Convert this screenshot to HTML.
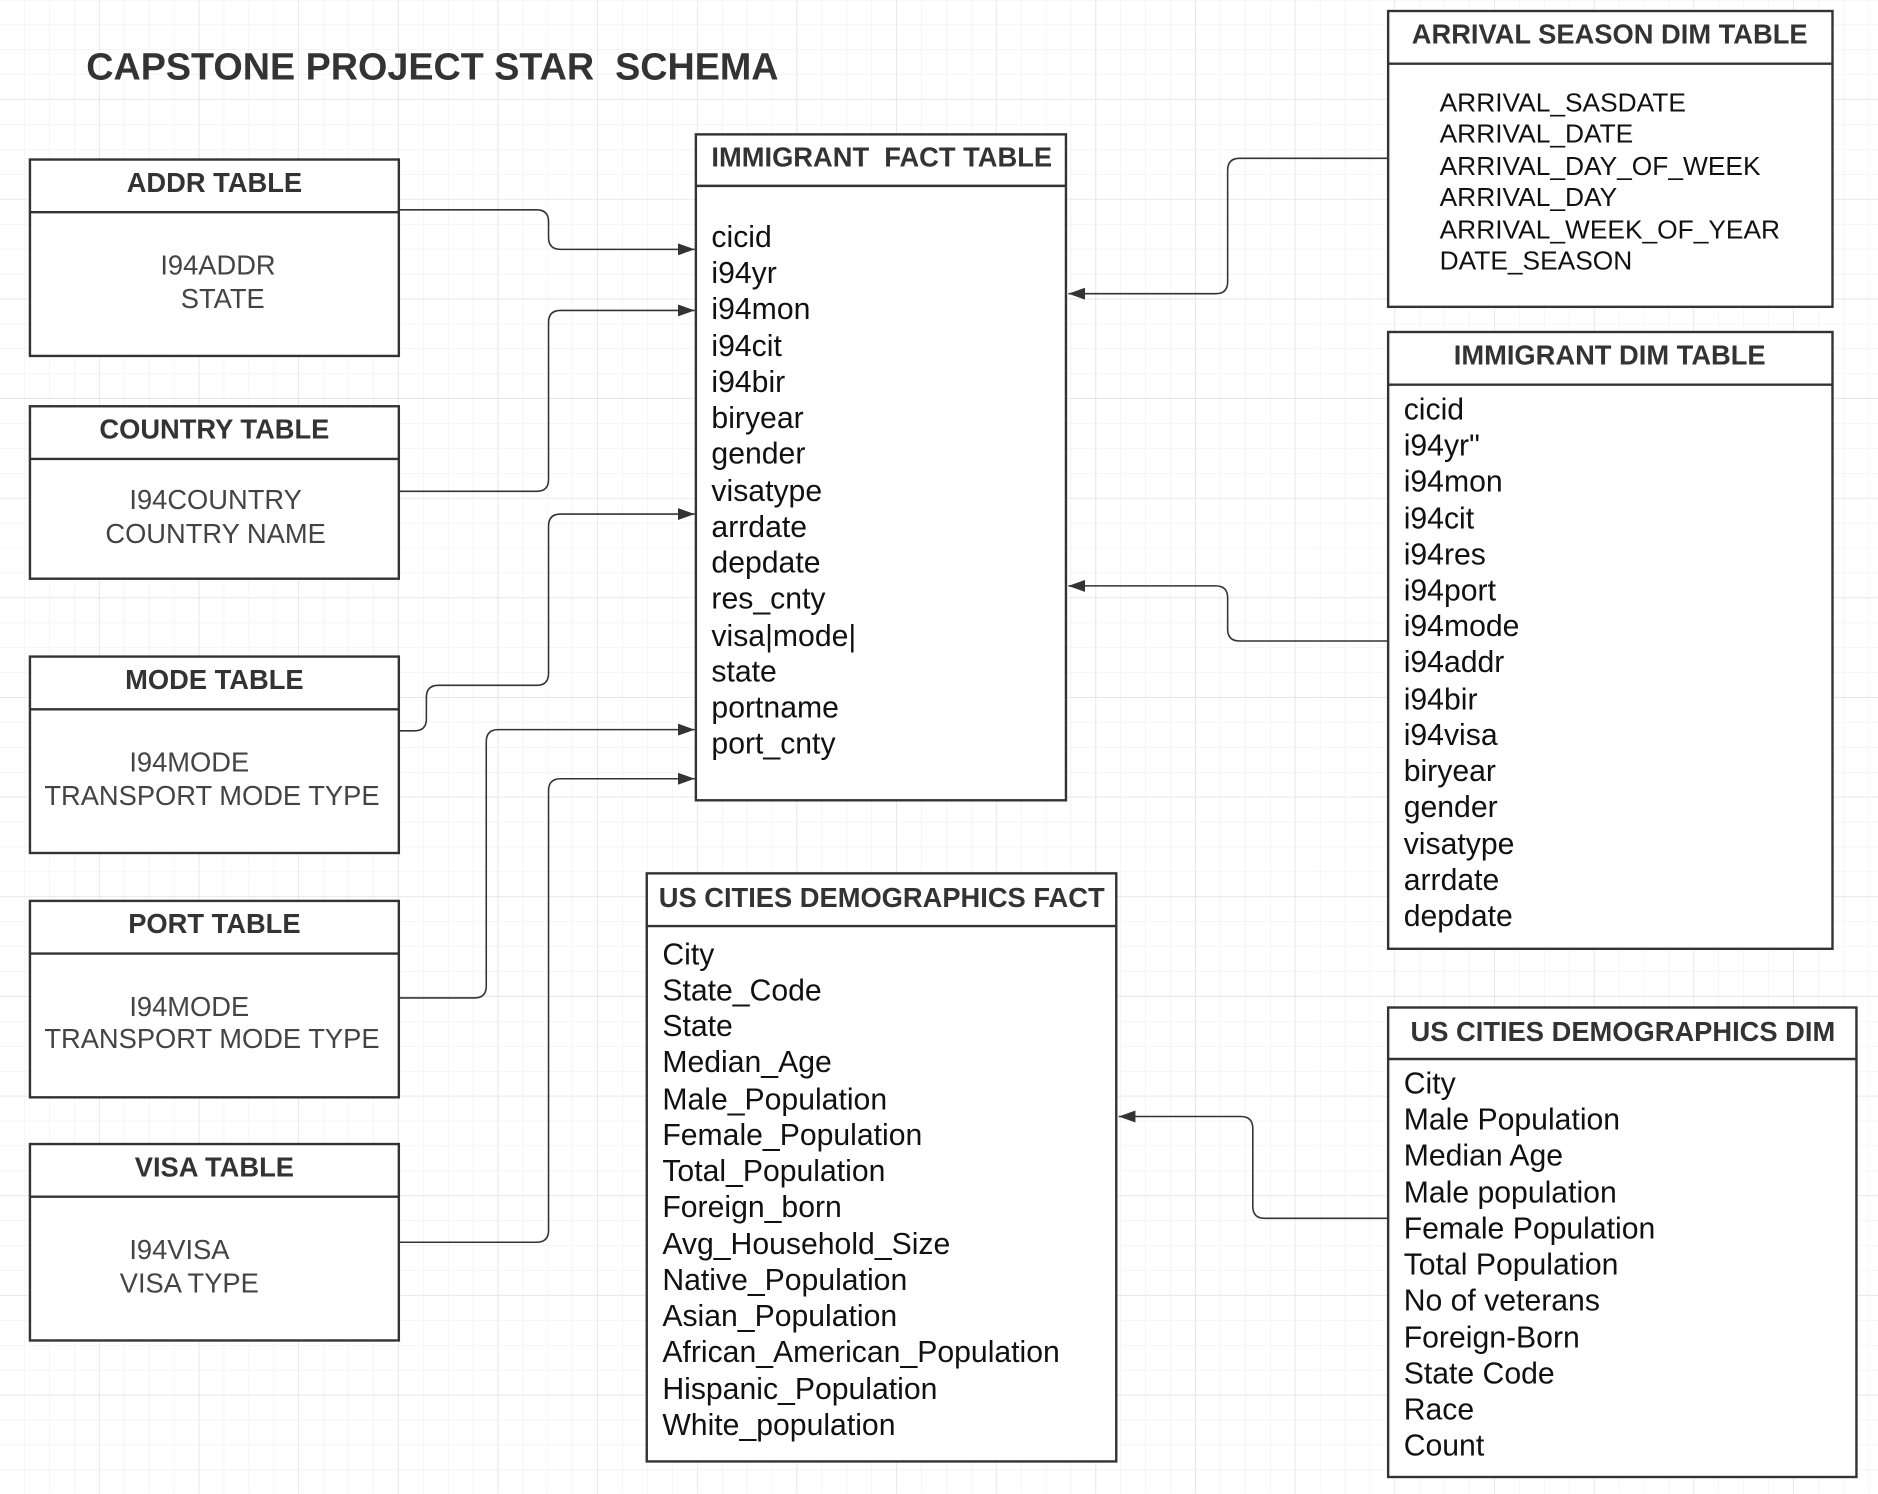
<!DOCTYPE html>
<html><head><meta charset="utf-8"><style>
html,body{margin:0;padding:0;background:#fff}
svg{display:block}
text{font-family:"Liberation Sans",Arial,sans-serif}
.t{font-weight:bold;font-size:22.8px;fill:#333}
.b{font-size:22.8px;fill:#444}
.f{font-size:25.2px;fill:#111}
.a{font-size:22px;fill:#111}
.box{fill:#fff;stroke:#333;stroke-width:2}
.c{fill:none;stroke:#333;stroke-width:1.3}
</style></head><body>
<svg width="1878" height="1494" viewBox="0 0 1568 1247" xmlns="http://www.w3.org/2000/svg">
<defs>
<pattern id="g" width="20.8" height="20.8" patternUnits="userSpaceOnUse"><path d="M20.8 0V20.8M0 20.8H20.8" stroke="#ececec" stroke-width="0.8" fill="none"/></pattern>
<pattern id="G" width="83.2" height="83.2" patternUnits="userSpaceOnUse"><path d="M83.2 0V83.2M0 83.2H83.2" stroke="#dedede" stroke-width="1" fill="none"/></pattern>
<marker id="ar" markerWidth="14" markerHeight="10" refX="14" refY="5" orient="auto" markerUnits="userSpaceOnUse"><path d="M0 0L14 5L0 10z" fill="#333"/></marker>
</defs>
<rect width="1568" height="1247" fill="url(#g)"/>
<rect width="1568" height="1247" fill="url(#G)"/>
<text x="72" y="66" xml:space="preserve" style="font-weight:bold;font-size:31.5px;fill:#333">CAPSTONE PROJECT STAR  SCHEMA</text>

<path class="c" marker-end="url(#ar)" d="M333 175H448q10 0 10 10V198q0 10 10 10H580"/>
<path class="c" marker-end="url(#ar)" d="M333 410H448q10 0 10-10V269q0-10 10-10H580"/>
<path class="c" marker-end="url(#ar)" d="M333 610H346q10 0 10-10V582q0-10 10-10H448q10 0 10-10V439q0-10 10-10H580"/>
<path class="c" marker-end="url(#ar)" d="M333 833H396q10 0 10-10V619q0-10 10-10H580"/>
<path class="c" marker-end="url(#ar)" d="M333 1037H448q10 0 10-10V660q0-10 10-10H580"/>
<path class="c" marker-end="url(#ar)" d="M1159 132H1035q-10 0-10 10V235q0 10-10 10H892"/>
<path class="c" marker-end="url(#ar)" d="M1159 535H1035q-10 0-10-10V499q0-10-10-10H892"/>
<path class="c" marker-end="url(#ar)" d="M1159 1017H1056q-10 0-10-10V942q0-10-10-10H934"/>

<rect class="box" x="25" y="133" width="308" height="164"/><line class="box" x1="25" y1="177" x2="333" y2="177"/>
<text class="t" x="179" y="160" text-anchor="middle">ADDR TABLE</text>
<text class="b" x="182" y="229" text-anchor="middle">I94ADDR</text>
<text class="b" x="186" y="257" text-anchor="middle">STATE</text>

<rect class="box" x="25" y="339" width="308" height="144"/><line class="box" x1="25" y1="383" x2="333" y2="383"/>
<text class="t" x="179" y="366" text-anchor="middle">COUNTRY TABLE</text>
<text class="b" x="180" y="425" text-anchor="middle">I94COUNTRY</text>
<text class="b" x="180" y="453" text-anchor="middle">COUNTRY NAME</text>

<rect class="box" x="25" y="548" width="308" height="164"/><line class="box" x1="25" y1="592" x2="333" y2="592"/>
<text class="t" x="179" y="575" text-anchor="middle">MODE TABLE</text>
<text class="b" x="108" y="644">I94MODE</text>
<text class="b" x="37" y="672">TRANSPORT MODE TYPE</text>

<rect class="box" x="25" y="752" width="308" height="164"/><line class="box" x1="25" y1="796" x2="333" y2="796"/>
<text class="t" x="179" y="779" text-anchor="middle">PORT TABLE</text>
<text class="b" x="108" y="848">I94MODE</text>
<text class="b" x="37" y="875">TRANSPORT MODE TYPE</text>

<rect class="box" x="25" y="955" width="308" height="164"/><line class="box" x1="25" y1="999" x2="333" y2="999"/>
<text class="t" x="179" y="982" text-anchor="middle">VISA TABLE</text>
<text class="b" x="108" y="1051">I94VISA</text>
<text class="b" x="100" y="1079">VISA TYPE</text>

<rect class="box" x="581" y="112" width="309" height="556"/><line class="box" x1="581" y1="155" x2="890" y2="155"/>
<text class="t" x="594" y="139" xml:space="preserve">IMMIGRANT  FACT TABLE</text>
<g class="f">
<text x="594" y="206">cicid</text><text x="594" y="236">i94yr</text><text x="594" y="266">i94mon</text>
<text x="594" y="297">i94cit</text><text x="594" y="327">i94bir</text><text x="594" y="357">biryear</text>
<text x="594" y="387">gender</text><text x="594" y="418">visatype</text><text x="594" y="448">arrdate</text>
<text x="594" y="478">depdate</text><text x="594" y="508">res_cnty</text><text x="594" y="539">visa|mode|</text>
<text x="594" y="569">state</text><text x="594" y="599">portname</text><text x="594" y="629">port_cnty</text>
</g>

<rect class="box" x="1159" y="9" width="371" height="247"/><line class="box" x1="1159" y1="53" x2="1530" y2="53"/>
<text class="t" x="1344" y="36" text-anchor="middle">ARRIVAL SEASON DIM TABLE</text>
<g class="a">
<text x="1202" y="93">ARRIVAL_SASDATE</text><text x="1202" y="119">ARRIVAL_DATE</text>
<text x="1202" y="146">ARRIVAL_DAY_OF_WEEK</text><text x="1202" y="172">ARRIVAL_DAY</text>
<text x="1202" y="199">ARRIVAL_WEEK_OF_YEAR</text><text x="1202" y="225">DATE_SEASON</text>
</g>

<rect class="box" x="1159" y="277" width="371" height="515"/><line class="box" x1="1159" y1="321" x2="1530" y2="321"/>
<text class="t" x="1344" y="304" text-anchor="middle">IMMIGRANT DIM TABLE</text>
<g class="f">
<text x="1172" y="350">cicid</text><text x="1172" y="380">i94yr"</text><text x="1172" y="410">i94mon</text>
<text x="1172" y="441">i94cit</text><text x="1172" y="471">i94res</text><text x="1172" y="501">i94port</text>
<text x="1172" y="531">i94mode</text><text x="1172" y="561">i94addr</text><text x="1172" y="592">i94bir</text>
<text x="1172" y="622">i94visa</text><text x="1172" y="652">biryear</text><text x="1172" y="682">gender</text>
<text x="1172" y="713">visatype</text><text x="1172" y="743">arrdate</text><text x="1172" y="773">depdate</text>
</g>

<rect class="box" x="540" y="729" width="392" height="491"/><line class="box" x1="540" y1="773" x2="932" y2="773"/>
<text class="t" x="550" y="757">US CITIES DEMOGRAPHICS FACT</text>
<g class="f">
<text x="553" y="805">City</text><text x="553" y="835">State_Code</text><text x="553" y="865">State</text>
<text x="553" y="895">Median_Age</text><text x="553" y="926">Male_Population</text><text x="553" y="956">Female_Population</text>
<text x="553" y="986">Total_Population</text><text x="553" y="1016">Foreign_born</text><text x="553" y="1047">Avg_Household_Size</text>
<text x="553" y="1077">Native_Population</text><text x="553" y="1107">Asian_Population</text><text x="553" y="1137">African_American_Population</text>
<text x="553" y="1168">Hispanic_Population</text><text x="553" y="1198">White_population</text>
</g>

<rect class="box" x="1159" y="841" width="391" height="392"/><line class="box" x1="1159" y1="884" x2="1550" y2="884"/>
<text class="t" x="1355" y="869" text-anchor="middle">US CITIES DEMOGRAPHICS DIM</text>
<g class="f">
<text x="1172" y="913">City</text><text x="1172" y="943">Male Population</text><text x="1172" y="973">Median Age</text>
<text x="1172" y="1004">Male population</text><text x="1172" y="1034">Female Population</text><text x="1172" y="1064">Total Population</text>
<text x="1172" y="1094">No of veterans</text><text x="1172" y="1125">Foreign-Born</text><text x="1172" y="1155">State Code</text>
<text x="1172" y="1185">Race</text><text x="1172" y="1215">Count</text>
</g>
</svg>
</body></html>
